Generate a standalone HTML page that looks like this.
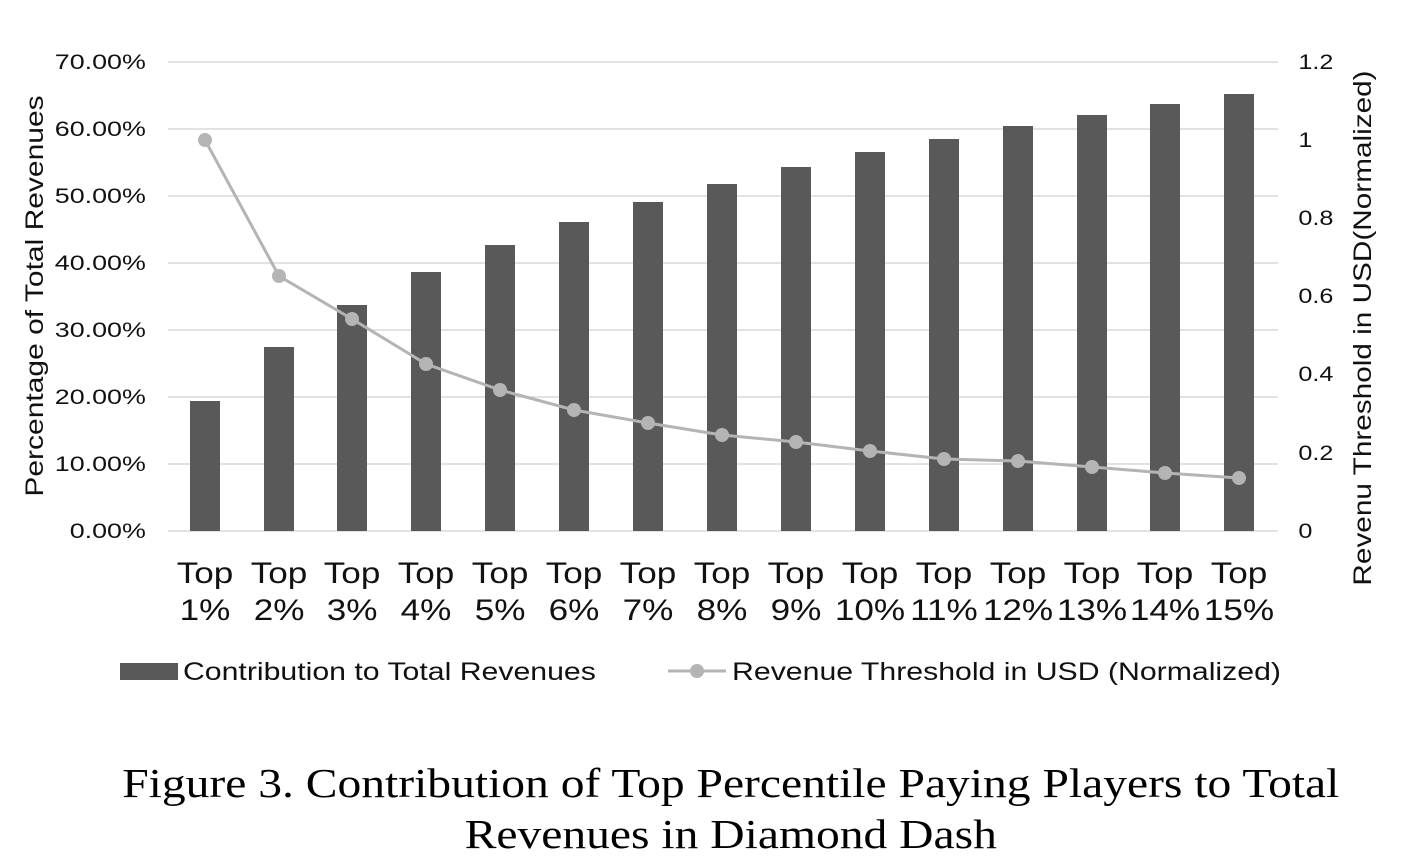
<!DOCTYPE html>
<html><head><meta charset="utf-8"><style>
html,body{margin:0;padding:0;background:#fff;}
svg{display:block;}
</style></head><body>
<svg width="1412" height="866" viewBox="0 0 1412 866" xmlns="http://www.w3.org/2000/svg">
<g stroke="#d9d9d9" stroke-width="1.5">
<line x1="168" y1="62" x2="1278" y2="62"/>
<line x1="168" y1="129" x2="1278" y2="129"/>
<line x1="168" y1="196" x2="1278" y2="196"/>
<line x1="168" y1="263" x2="1278" y2="263"/>
<line x1="168" y1="330" x2="1278" y2="330"/>
<line x1="168" y1="397" x2="1278" y2="397"/>
<line x1="168" y1="464" x2="1278" y2="464"/>
<line x1="168" y1="531" x2="1278" y2="531"/>
</g>
<g fill="#595959">
<rect x="190" y="401" width="30" height="130"/>
<rect x="264" y="347" width="30" height="184"/>
<rect x="337" y="305" width="30" height="226"/>
<rect x="411" y="272" width="30" height="259"/>
<rect x="485" y="245" width="30" height="286"/>
<rect x="559" y="222" width="30" height="309"/>
<rect x="633" y="202" width="30" height="329"/>
<rect x="707" y="184" width="30" height="347"/>
<rect x="781" y="167" width="30" height="364"/>
<rect x="855" y="152" width="30" height="379"/>
<rect x="929" y="139" width="30" height="392"/>
<rect x="1003" y="126" width="30" height="405"/>
<rect x="1077" y="115" width="30" height="416"/>
<rect x="1150" y="104" width="30" height="427"/>
<rect x="1224" y="94" width="30" height="437"/>
</g>
<polyline fill="none" stroke="#b4b4b4" stroke-width="3" points="205,140 279,276 352,319 426,364 500,390 574,410 648,423 722,435 796,442 870,451 944,459 1018,461 1092,467 1165,473 1239,478"/>
<g fill="#b4b4b4">
<circle cx="205" cy="140" r="7"/><circle cx="279" cy="276" r="7"/><circle cx="352" cy="319" r="7"/><circle cx="426" cy="364" r="7"/><circle cx="500" cy="390" r="7"/><circle cx="574" cy="410" r="7"/><circle cx="648" cy="423" r="7"/><circle cx="722" cy="435" r="7"/><circle cx="796" cy="442" r="7"/><circle cx="870" cy="451" r="7"/><circle cx="944" cy="459" r="7"/><circle cx="1018" cy="461" r="7"/><circle cx="1092" cy="467" r="7"/><circle cx="1165" cy="473" r="7"/><circle cx="1239" cy="478" r="7"/>
</g>
<g transform="scale(1.28,1)" font-family="Liberation Sans, sans-serif" font-size="21" fill="#111" text-anchor="end">
<text x="114" y="69">70.00%</text>
<text x="114" y="136">60.00%</text>
<text x="114" y="203">50.00%</text>
<text x="114" y="270">40.00%</text>
<text x="114" y="337">30.00%</text>
<text x="114" y="404">20.00%</text>
<text x="114" y="471">10.00%</text>
<text x="114" y="538">0.00%</text>
</g>
<g transform="scale(1.2,1)" font-family="Liberation Sans, sans-serif" font-size="21" fill="#111">
<text x="1082" y="69">1.2</text>
<text x="1082" y="147">1</text>
<text x="1082" y="225">0.8</text>
<text x="1082" y="303">0.6</text>
<text x="1082" y="381">0.4</text>
<text x="1082" y="460">0.2</text>
<text x="1082" y="538">0</text>
</g>
<text transform="translate(43,296) rotate(-90) scale(1.2,1)" text-anchor="middle" font-family="Liberation Sans, sans-serif" font-size="25" fill="#111">Percentage of Total Revenues</text>
<text transform="translate(1371,328) rotate(-90) scale(1.19,1)" text-anchor="middle" font-family="Liberation Sans, sans-serif" font-size="25" fill="#111">Revenu Threshold in USD(Normalized)</text>
<g transform="scale(1.17,1)" font-family="Liberation Sans, sans-serif" font-size="30" fill="#111" text-anchor="middle">
<text x="175.2" y="583">Top</text><text x="175.2" y="620">1%</text>
<text x="238.5" y="583">Top</text><text x="238.5" y="620">2%</text>
<text x="300.9" y="583">Top</text><text x="300.9" y="620">3%</text>
<text x="364.1" y="583">Top</text><text x="364.1" y="620">4%</text>
<text x="427.4" y="583">Top</text><text x="427.4" y="620">5%</text>
<text x="490.6" y="583">Top</text><text x="490.6" y="620">6%</text>
<text x="553.8" y="583">Top</text><text x="553.8" y="620">7%</text>
<text x="617.1" y="583">Top</text><text x="617.1" y="620">8%</text>
<text x="680.3" y="583">Top</text><text x="680.3" y="620">9%</text>
<text x="743.6" y="583">Top</text><text x="743.6" y="620">10%</text>
<text x="806.8" y="583">Top</text><text x="806.8" y="620">11%</text>
<text x="870.1" y="583">Top</text><text x="870.1" y="620">12%</text>
<text x="933.3" y="583">Top</text><text x="933.3" y="620">13%</text>
<text x="995.7" y="583">Top</text><text x="995.7" y="620">14%</text>
<text x="1059" y="583">Top</text><text x="1059" y="620">15%</text>
</g>
<rect x="120" y="663" width="58" height="17" fill="#595959"/>
<line x1="668" y1="671" x2="726" y2="671" stroke="#b4b4b4" stroke-width="3"/>
<circle cx="697" cy="671" r="7" fill="#b4b4b4"/>
<g transform="scale(1.21,1)" font-family="Liberation Sans, sans-serif" font-size="25" fill="#111">
<text x="151.2" y="680">Contribution to Total Revenues</text>
<text x="605" y="680">Revenue Threshold in USD (Normalized)</text>
</g>
<g transform="scale(1.16,1)" font-family="Liberation Serif, serif" font-size="41" fill="#000" text-anchor="middle">
<text x="630" y="797">Figure 3. Contribution of Top Percentile Paying Players to Total</text>
<text x="630" y="848">Revenues in Diamond Dash</text>
</g>
</svg>
</body></html>
